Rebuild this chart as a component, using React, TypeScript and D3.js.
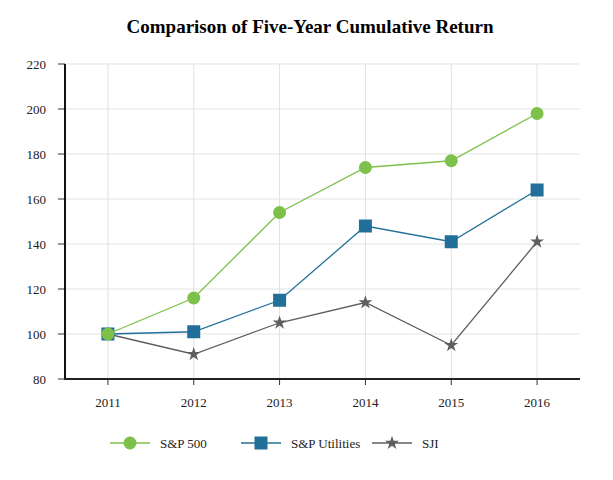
import React from "react";
import * as d3 from "d3";

const years = ["2011", "2012", "2013", "2014", "2015", "2016"];
const sp500 = [100, 116, 154, 174, 177, 198];
const spUtilities = [100, 101, 115, 148, 141, 164];
const sji = [100, 91, 105, 114, 95, 141];
const yTicks = [80, 100, 120, 140, 160, 180, 200, 220];

const seriesNames = ["S&P 500", "S&P Utilities", "SJI"];
const seriesColors = ["#7dc14b", "#22709a", "#5e5e5e"];
const seriesMarkers = ["circle", "square", "star"];

const W = 613, H = 480;
const left = 65, right = 580, top = 64, bottom = 379;
const font = "Liberation Serif, DejaVu Serif, Times New Roman, serif";

function Marker({ type, x, y, color }: { type: string; x: number; y: number; color: string }) {
  if (type === "circle") return <circle cx={x} cy={y} r={6.5} fill={color} />;
  if (type === "square") return <rect x={x - 6.5} y={y - 6.5} width={13} height={13} fill={color} />;
  const star = d3.symbol().type(d3.symbolStar).size(60)();
  return <path d={star || ""} transform={`translate(${x},${y})`} fill={color} />;
}

export default function App() {
  const x = d3.scaleBand().domain(years).range([left, right]);
  const y = d3.scaleLinear().domain([80, 220]).range([bottom, top]);
  const cx = (d: string) => (x(d) ?? 0) + x.bandwidth() / 2;
  const data = [sp500, spUtilities, sji];
  const line = d3.line<number>().x((_, i) => cx(years[i])).y((v) => y(v));

  const legendX = [110, 241, 372];
  const legendY = 443;
  const ts = { fontFamily: font };

  return (
    <svg width={W} height={H} style={{ position: "absolute", left: 0, top: 0, background: "#fff" }}>
      <text x={310} y={33} textAnchor="middle" fontSize={19} fontWeight="bold" fill="#000" style={ts}>
        Comparison of Five-Year Cumulative Return
      </text>
      {yTicks.map((t) => (
        <line key={"gy" + t} x1={left} x2={right} y1={y(t)} y2={y(t)} stroke="#e3e3e3" strokeWidth={1} />
      ))}
      {years.map((yr) => (
        <line key={"gx" + yr} x1={cx(yr)} x2={cx(yr)} y1={top} y2={bottom} stroke="#e0e0e0" strokeWidth={1} />
      ))}
      {yTicks.map((t) => (
        <g key={"ty" + t}>
          <line x1={58} x2={left} y1={y(t)} y2={y(t)} stroke="#333" strokeWidth={1} />
          <text x={46} y={y(t) + 4.5} textAnchor="end" fontSize={13} fill="#222" style={ts}>{t}</text>
        </g>
      ))}
      {years.map((yr) => (
        <g key={"tx" + yr}>
          <line x1={cx(yr)} x2={cx(yr)} y1={bottom} y2={bottom + 6} stroke="#333" strokeWidth={1} />
          <text x={cx(yr)} y={407} textAnchor="middle" fontSize={13} fill="#222" style={ts}>{yr}</text>
        </g>
      ))}
      <line x1={left} x2={left} y1={top} y2={bottom + 1} stroke="#111" strokeWidth={2} />
      <line x1={left - 1} x2={right} y1={bottom} y2={bottom} stroke="#222" strokeWidth={2} />
      {[2, 1, 0].map((si) => (
        <g key={"s" + si}>
          <path d={line(data[si]) || ""} fill="none" stroke={seriesColors[si]} strokeWidth={1.3} />
          {data[si].map((v, i) => (
            <Marker key={i} type={seriesMarkers[si]} x={cx(years[i])} y={y(v)} color={seriesColors[si]} />
          ))}
        </g>
      ))}
      {seriesNames.map((n, si) => (
        <g key={"l" + si}>
          <line x1={legendX[si]} x2={legendX[si] + 40} y1={legendY} y2={legendY} stroke={seriesColors[si]} strokeWidth={1.3} />
          <Marker type={seriesMarkers[si]} x={legendX[si] + 20} y={legendY} color={seriesColors[si]} />
          <text x={legendX[si] + 50} y={legendY + 4.5} fontSize={13} fill="#222" style={ts}>{n}</text>
        </g>
      ))}
    </svg>
  );
}
